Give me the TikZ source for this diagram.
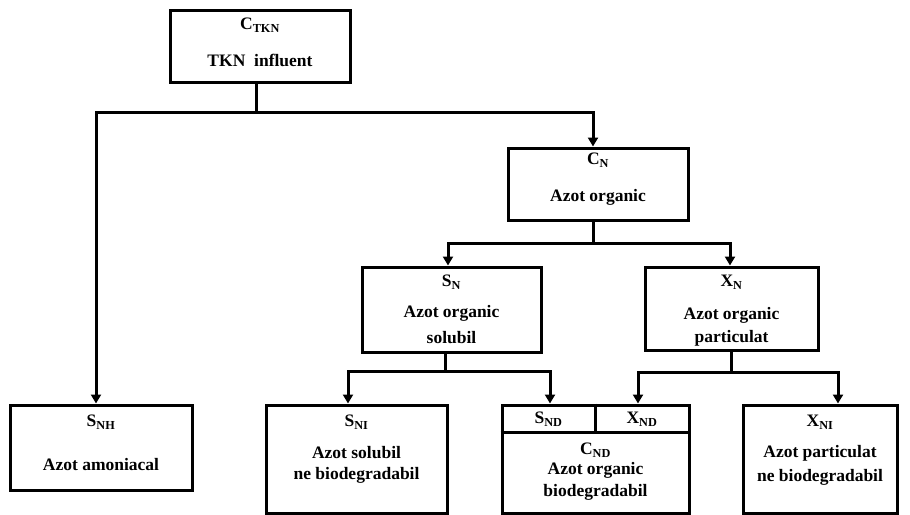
\documentclass[tikz,border=0pt]{standalone}
\usepackage{fontspec}
\setmainfont{Liberation Serif}
\usetikzlibrary{arrows.meta}
\begin{document}
\begin{tikzpicture}[x=1pt,y=-1pt,
  box/.style={draw,line width=3pt,inner sep=0pt},
  lbl/.style={font=\fontsize{17.5}{19}\selectfont\bfseries,inner sep=0pt,anchor=center},
  conn/.style={line width=3pt},
  arr/.style={conn,-{Triangle[length=9pt,width=10pt]}}]
\useasboundingbox (0,0) rectangle (910,514);
% boxes
\node[box,minimum width=180pt,minimum height=72pt] (tkn) at (260,46) {};
\node[box,minimum width=180pt,minimum height=72pt] (cn) at (598,184) {};
\node[box,minimum width=179pt,minimum height=85pt] (sn) at (451.5,309.5) {};
\node[box,minimum width=173pt,minimum height=83pt] (xn) at (731.5,308.5) {};
\node[box,minimum width=182pt,minimum height=85pt] (snh) at (101,447.5) {};
\node[box,minimum width=181pt,minimum height=108pt] (sni) at (356.5,459) {};
\node[box,minimum width=187pt,minimum height=108pt] (cnd) at (595.5,459) {};
\node[box,minimum width=154pt,minimum height=108pt] (xni) at (820,459) {};
% divider of the combined box
\coordinate (dl) at (502,432);
\coordinate (dm) at (595,432);
\draw[conn] (cnd.west |- dl) -- (cnd.east |- dl);
\draw[conn] (cnd.north -| dm) -- (dm);
% texts
\node[lbl] (t1) at (260,25) {C\textsubscript{TKN}};
\node[lbl] (t2) at (260,60) {TKN\ \ influent};
\node[lbl] (t3) at (598,160) {C\textsubscript{N}};
\node[lbl] (t4) at (598,197) {Azot organic};
\node[lbl] (t5) at (451.5,282) {S\textsubscript{N}};
\node[lbl] (t6) at (451.5,313) {Azot organic};
\node[lbl] (t7) at (451.5,338) {solubil};
\node[lbl] (t8) at (731.5,282) {X\textsubscript{N}};
\node[lbl] (t9) at (731.5,315) {Azot organic};
\node[lbl] (t10) at (731.5,338) {particulat};
\node[lbl] (t11) at (101,422) {S\textsubscript{NH}};
\node[lbl] (t12) at (101,465) {Azot amoniacal};
\node[lbl] (t13) at (356.5,422) {S\textsubscript{NI}};
\node[lbl] (t14) at (356.5,453) {Azot solubil};
\node[lbl] (t15) at (356.5,475) {ne biodegradabil};
\node[lbl] (t16) at (548.5,419) {S\textsubscript{ND}};
\node[lbl] (t17) at (642,419) {X\textsubscript{ND}};
\node[lbl] (t18) at (595.5,450) {C\textsubscript{ND}};
\node[lbl] (t19) at (595.5,470) {Azot organic};
\node[lbl] (t20) at (595.5,492) {biodegradabil};
\node[lbl] (t21) at (820,422) {X\textsubscript{NI}};
\node[lbl] (t22) at (820,453) {Azot particulat};
\node[lbl] (t23) at (820,477) {ne biodegradabil};
% junctions
\coordinate (j0) at (256,112);
\coordinate (a1) at (96,112);
\coordinate (a2) at (593,112);
\coordinate (j1) at (593,243);
\coordinate (a3) at (448,243);
\coordinate (a4) at (730,243);
\coordinate (j2) at (445,371);
\coordinate (a5) at (348,371);
\coordinate (a6) at (550,371);
\coordinate (j3) at (731,372);
\coordinate (a7) at (638,372);
\coordinate (a8) at (838,372);
% connectors
\draw[conn] (tkn.south -| j0) -- (j0);
\draw[arr] (j0) -- (a1) -- (a1 |- snh.north);
\draw[arr] (j0) -- (a2) -- (a2 |- cn.north);
\draw[conn] (cn.south -| j1) -- (j1);
\draw[arr] (j1) -- (a3) -- (a3 |- sn.north);
\draw[arr] (j1) -- (a4) -- (a4 |- xn.north);
\draw[conn] (sn.south -| j2) -- (j2);
\draw[arr] (j2) -- (a5) -- (a5 |- sni.north);
\draw[arr] (j2) -- (a6) -- (a6 |- cnd.north);
\draw[conn] (xn.south -| j3) -- (j3);
\draw[arr] (j3) -- (a7) -- (a7 |- cnd.north);
\draw[arr] (j3) -- (a8) -- (a8 |- xni.north);
\end{tikzpicture}
\end{document}
